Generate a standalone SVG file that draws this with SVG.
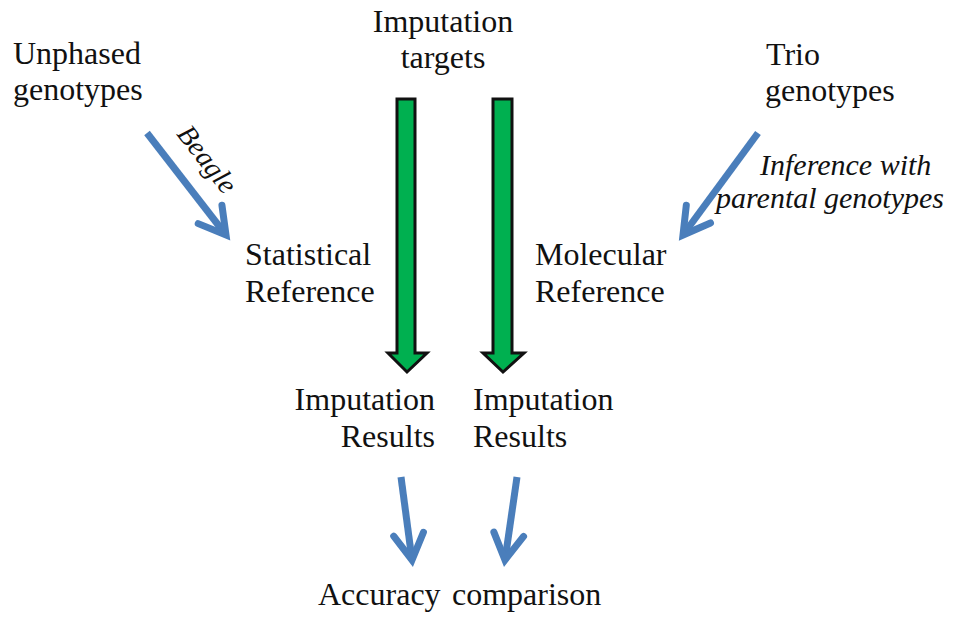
<svg xmlns="http://www.w3.org/2000/svg" width="962" height="620" viewBox="0 0 962 620">
<defs>
<style>
.t{font-family:"Liberation Serif","Times New Roman",serif;font-size:32px;fill:#111;}
.i{font-family:"Liberation Serif","Times New Roman",serif;font-style:italic;fill:#111;}
.blue{stroke:#4a7ebb;stroke-width:7;fill:none;stroke-linecap:butt;}
.green{fill:#00b050;stroke:#111;stroke-width:3;stroke-linejoin:miter;}
</style>
<marker id="chev" markerUnits="userSpaceOnUse" markerWidth="40" markerHeight="40" viewBox="-30 -20 40 40" refX="0" refY="0" orient="auto">
<path d="M-26,-15 L0,0 L-26,15" fill="none" stroke="#4a7ebb" stroke-width="7" stroke-linejoin="miter" stroke-linecap="round"/>
</marker>
</defs>
<rect width="962" height="620" fill="#fff"/>
<g id="connectors">
<path class="green" d="M397,99 L415,99 L415,353 L427,353 L407,372 L388,353 L397,353 Z"/>
<path class="green" d="M493,99 L512,99 L512,353 L524,353 L503,372 L483,353 L493,353 Z"/>
<line class="blue" x1="147" y1="133" x2="226" y2="235" marker-end="url(#chev)"/>
<line class="blue" x1="758" y1="133" x2="683" y2="235" marker-end="url(#chev)"/>
<line class="blue" x1="401" y1="477" x2="412" y2="560" marker-end="url(#chev)"/>
<line class="blue" x1="517" y1="477" x2="505" y2="560" marker-end="url(#chev)"/>
<text class="i" font-size="28" text-anchor="middle" transform="translate(200,165) rotate(52)">Beagle</text>
<text class="i" font-size="30" x="760" y="175">Inference with</text>
<text class="i" font-size="30" x="716" y="208">parental genotypes</text>
</g>
<g id="unphased">
<text class="t" x="13" y="64">Unphased</text>
<text class="t" x="13" y="100">genotypes</text>
</g>
<g id="targets">
<text class="t" x="443" y="32" text-anchor="middle">Imputation</text>
<text class="t" x="443" y="68" text-anchor="middle">targets</text>
</g>
<g id="trio">
<text class="t" x="766" y="65">Trio</text>
<text class="t" x="765" y="101">genotypes</text>
</g>
<g id="statistical">
<text class="t" x="245" y="265">Statistical</text>
<text class="t" x="245" y="302">Reference</text>
</g>
<g id="molecular">
<text class="t" x="535" y="265">Molecular</text>
<text class="t" x="535" y="302">Reference</text>
</g>
<g id="results-left">
<text class="t" x="435" y="410" text-anchor="end">Imputation</text>
<text class="t" x="435" y="447" text-anchor="end">Results</text>
</g>
<g id="results-right">
<text class="t" x="473" y="410">Imputation</text>
<text class="t" x="473" y="447">Results</text>
</g>
<g id="accuracy">
<text class="t" y="605"><tspan x="318">Accuracy </tspan><tspan x="452">comparison</tspan></text>
</g>
</svg>
